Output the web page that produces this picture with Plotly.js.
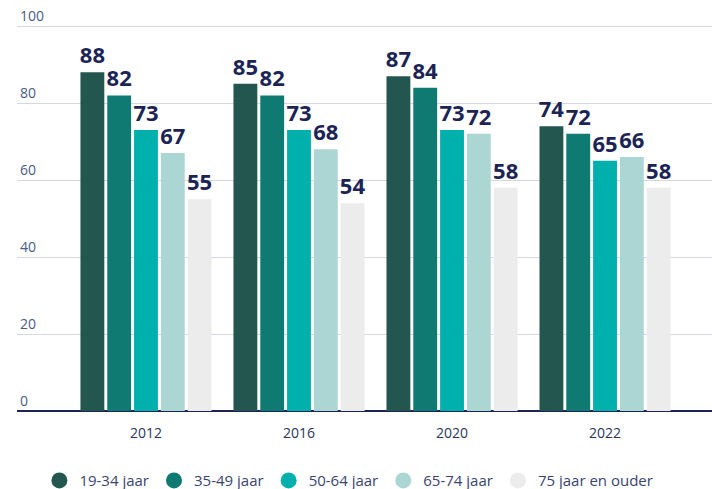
<!DOCTYPE html>
<html>
<head>
<meta charset="utf-8">
<script src="https://cdn.plot.ly/plotly-3.0.1.min.js"></script>
<style>
html,body{margin:0;padding:0;background:#fff;}
#chart{width:712px;height:489px;}
</style>
</head>
<body>
<div id="chart"></div>
<script>
const years = ["2012", "2016", "2020", "2022"];
const seriesNames = ["19-34 jaar", "35-49 jaar", "50-64 jaar", "65-74 jaar", "75 jaar en ouder"];
const v1934 = [88, 85, 87, 74];
const v3549 = [82, 82, 84, 72];
const v5064 = [73, 73, 73, 65];
const v6574 = [67, 68, 72, 66];
const v75plus = [55, 54, 58, 58];
const colors = ["#22564f", "#0e7a72", "#00b0ad", "#acd6d3", "#ececec"];

const seriesValues = [v1934, v3549, v5064, v6574, v75plus];
const traces = [];
seriesValues.forEach((vals, i) => {
  traces.push({
    type: "bar",
    x: years,
    y: vals,
    name: seriesNames[i],
    showlegend: false,
    marker: {color: colors[i], line: {color: "#ffffff", width: 0}},
    texttemplate: "%{y}",
    textposition: "outside",
    constraintext: "none",
    cliponaxis: false,
    textfont: {family: "Open Sans, sans-serif", size: 22, color: "#1c2456", weight: 700},
    hoverinfo: "skip"
  });
});
seriesNames.forEach((n, i) => {
  traces.push({
    type: "scatter",
    mode: "markers",
    x: [null],
    y: [null],
    name: n,
    marker: {symbol: "circle", size: 18, color: colors[i]},
    showlegend: true
  });
});

const layout = {
  width: 712,
  height: 489,
  margin: {l: 17, r: 0, t: 3, b: 78, autoexpand: false},
  paper_bgcolor: "#ffffff",
  plot_bgcolor: "#ffffff",
  barmode: "group",
  bargap: 0.124,
  bargroupgap: 0.11,
  font: {family: "Open Sans, sans-serif", color: "#2a3560"},
  xaxis: {
    type: "category",
    range: [-0.843, 3.699],
    showgrid: false,
    showline: false,
    zeroline: false,
    ticks: "",
    tickfont: {size: 14, color: "#2a3560"},
    ticklabelstandoff: 12
  },
  yaxis: {
    range: [0, 106],
    tickvals: [0, 20, 40, 60, 80, 100],
    ticklabelposition: "inside top",
    tickfont: {size: 14, color: "#4a5c85"},
    showgrid: true,
    gridcolor: "#d3d8e3",
    gridwidth: 1,
    zeroline: true,
    zerolinecolor: "#1c2456",
    zerolinewidth: 2,
    showline: false,
    ticks: ""
  },
  legend: {
    orientation: "h",
    xref: "container",
    x: 0.49,
    xanchor: "center",
    yref: "container",
    y: 0.017,
    yanchor: "middle",
    font: {size: 15, color: "#3a4470"},
    itemclick: false,
    itemdoubleclick: false
  },
  showlegend: true
};

Plotly.newPlot("chart", traces, layout, {displayModeBar: false, staticPlot: true});
</script>
</body>
</html>
